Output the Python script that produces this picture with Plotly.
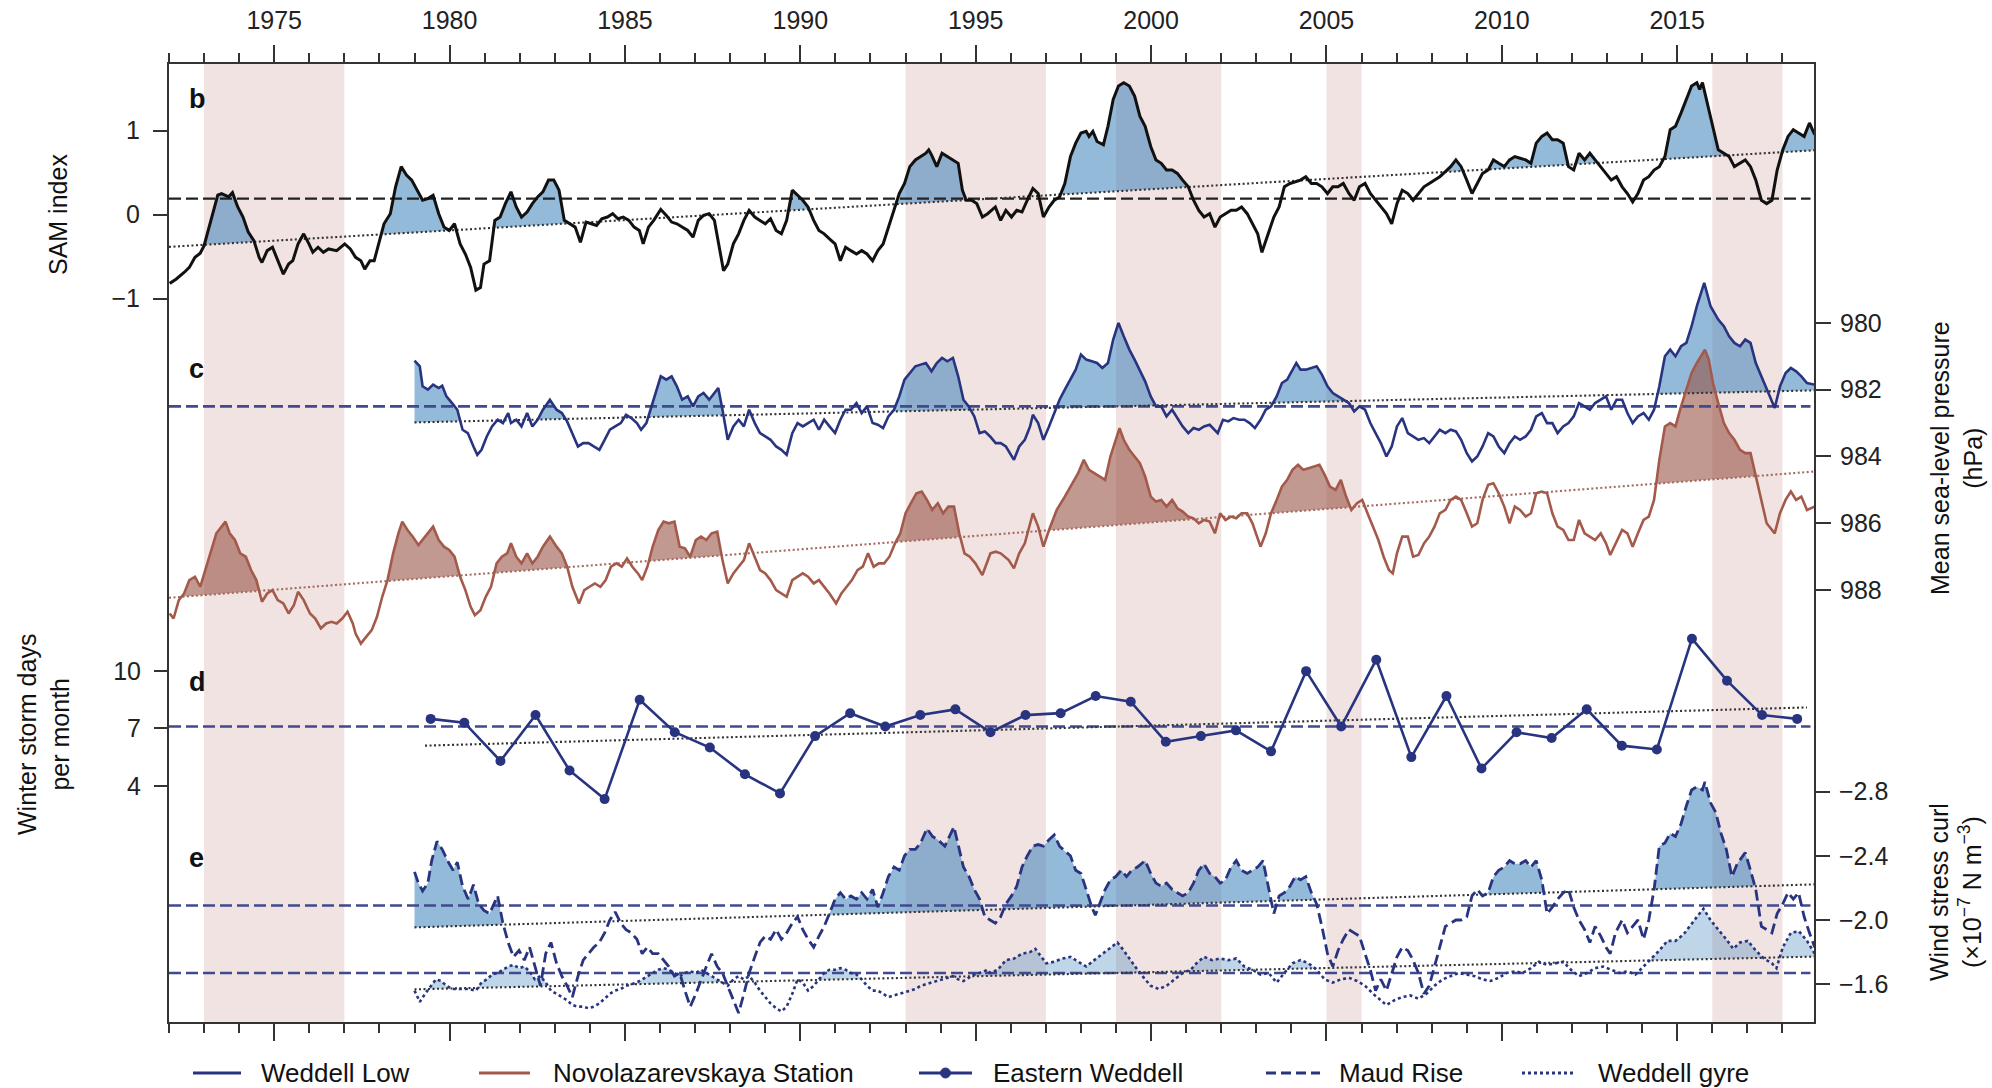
import numpy as np
import plotly.graph_objects as go

# ---------------- data ----------------
X_RANGE = [1972.0, 2018.9]
BANDS = [(1973, 1977), (1993, 1997), (1999, 2002), (2005, 2006), (2016, 2018)]

SAM_TICKS = [-1, 0, 1]
MSLP_TICKS = [980, 982, 984, 986, 988]
STORM_TICKS = [4, 7, 10]
CURL_TICKS = [-2.8, -2.4, -2.0, -1.6]

SAM = [(1972.02,-0.82),(1972.20,-0.77),(1972.43,-0.69),(1972.58,-0.63),(1972.74,-0.51),(1972.89,-0.46),
(1973.00,-0.37),(1973.12,-0.19),(1973.27,0.05),(1973.39,0.23),(1973.50,0.25),(1973.61,0.23),(1973.70,0.21),
(1973.81,0.26),(1973.96,0.09),(1974.11,-0.03),(1974.26,-0.21),(1974.42,-0.31),(1974.57,-0.51),(1974.65,-0.57),
(1974.80,-0.43),(1974.95,-0.39),(1975.10,-0.55),(1975.26,-0.71),(1975.41,-0.59),(1975.53,-0.55),(1975.68,-0.35),
(1975.84,-0.23),(1975.99,-0.35),(1976.10,-0.45),(1976.25,-0.39),(1976.40,-0.45),(1976.55,-0.41),(1976.78,-0.43),
(1977.01,-0.35),(1977.17,-0.41),(1977.32,-0.51),(1977.47,-0.55),(1977.58,-0.65),(1977.73,-0.55),(1977.85,-0.55),
(1978.01,-0.31),(1978.13,-0.11),(1978.31,0.01),(1978.46,0.33),(1978.62,0.57),(1978.77,0.47),(1978.92,0.41),
(1979.07,0.29),(1979.23,0.17),(1979.38,0.19),(1979.53,0.23),(1979.69,0.01),(1979.84,-0.15),(1979.99,-0.19),
(1980.14,-0.11),(1980.30,-0.35),(1980.45,-0.47),(1980.60,-0.63),(1980.75,-0.90),(1980.88,-0.87),(1980.98,-0.59),
(1981.14,-0.55),(1981.29,-0.07),(1981.44,-0.03),(1981.59,0.13),(1981.75,0.27),(1981.90,0.09),(1982.05,-0.03),
(1982.21,0.03),(1982.36,0.13),(1982.51,0.21),(1982.66,0.27),(1982.82,0.41),(1982.97,0.41),(1983.12,0.29),
(1983.27,-0.07),(1983.43,-0.11),(1983.58,-0.15),(1983.73,-0.33),(1983.89,-0.09),(1984.04,-0.11),(1984.19,-0.13),
(1984.34,-0.05),(1984.50,-0.03),(1984.65,0.01),(1984.80,-0.05),(1984.95,-0.03),(1985.11,-0.07),(1985.26,-0.15),
(1985.41,-0.19),(1985.52,-0.35),(1985.67,-0.15),(1985.82,-0.07),(1986.02,0.06),(1986.18,-0.01),(1986.33,-0.09),
(1986.48,-0.11),(1986.63,-0.15),(1986.79,-0.19),(1986.94,-0.27),(1987.09,-0.07),(1987.24,-0.01),(1987.40,0.01),
(1987.55,-0.07),(1987.70,-0.39),(1987.81,-0.67),(1987.93,-0.59),(1988.09,-0.35),(1988.24,-0.23),(1988.39,-0.07),
(1988.54,0.05),(1988.70,-0.03),(1988.85,-0.07),(1989.00,-0.11),(1989.15,-0.05),(1989.31,-0.19),(1989.46,-0.23),
(1989.61,-0.07),(1989.77,0.29),(1989.92,0.23),(1990.07,0.17),(1990.22,0.09),(1990.38,-0.07),(1990.53,-0.19),
(1990.68,-0.23),(1990.83,-0.29),(1990.99,-0.35),(1991.14,-0.55),(1991.29,-0.39),(1991.44,-0.43),(1991.60,-0.47),
(1991.75,-0.43),(1991.90,-0.47),(1992.06,-0.55),(1992.21,-0.43),(1992.36,-0.35),(1992.51,-0.15),(1992.67,0.05),
(1992.82,0.25),(1992.97,0.37),(1993.12,0.57),(1993.28,0.65),(1993.43,0.69),(1993.58,0.73),(1993.66,0.77),
(1993.74,0.71),(1993.89,0.57),(1994.04,0.73),(1994.19,0.69),(1994.35,0.65),(1994.50,0.61),(1994.62,0.29),
(1994.73,0.17),(1994.88,0.17),(1995.03,0.13),(1995.19,-0.03),(1995.34,0.01),
(1995.56,0.09),(1995.71,-0.07),(1995.86,0.05),(1996.02,-0.03),(1996.17,0.05),(1996.32,0.03),(1996.47,0.17),
(1996.63,0.31),(1996.78,0.25),(1996.93,-0.03),(1997.09,0.09),(1997.24,0.17),(1997.39,0.21),(1997.54,0.37),
(1997.70,0.69),(1997.85,0.85),(1998.00,0.97),(1998.15,0.99),(1998.23,0.93),(1998.34,0.99),(1998.46,0.87),
(1998.64,0.83),(1998.77,1.05),(1998.92,1.37),(1999.07,1.53),(1999.22,1.57),(1999.38,1.53),(1999.53,1.41),
(1999.68,1.17),(1999.83,1.05),(1999.99,0.81),(2000.14,0.65),(2000.29,0.61),(2000.44,0.53),(2000.60,0.53),
(2000.75,0.49),(2000.90,0.41),(2001.06,0.33),(2001.21,0.17),(2001.36,0.05),(2001.51,-0.03),(2001.67,0.01),
(2001.82,-0.15),(2001.97,-0.03),(2002.12,0.01),(2002.28,0.05),(2002.43,0.05),(2002.58,0.09),(2002.74,0.01),
(2002.89,-0.11),(2003.04,-0.23),(2003.16,-0.45),(2003.35,-0.23),(2003.50,-0.03),(2003.65,0.09),(2003.80,0.33),
(2003.96,0.37),(2004.11,0.39),(2004.26,0.41),(2004.41,0.45),(2004.57,0.37),(2004.72,0.37),(2004.87,0.33),
(2005.03,0.25),(2005.18,0.33),(2005.33,0.33),(2005.48,0.37),(2005.64,0.25),(2005.79,0.17),(2005.94,0.33),
(2006.10,0.37),(2006.25,0.25),(2006.40,0.17),(2006.55,0.09),(2006.71,0.01),(2006.86,-0.11),(2007.01,0.13),
(2007.16,0.29),(2007.32,0.25),(2007.47,0.17),(2007.62,0.25),(2007.78,0.33),(2007.93,0.37),(2008.08,0.41),
(2008.23,0.45),(2008.39,0.51),(2008.54,0.57),(2008.69,0.65),(2008.84,0.57),(2009.00,0.41),(2009.15,0.25),
(2009.30,0.37),(2009.45,0.49),(2009.61,0.53),(2009.76,0.65),(2009.91,0.61),(2010.07,0.57),(2010.22,0.65),
(2010.37,0.69),(2010.52,0.67),(2010.68,0.65),(2010.83,0.61),(2010.98,0.85),(2011.14,0.93),(2011.29,0.97),
(2011.44,0.89),(2011.59,0.89),(2011.75,0.85),(2011.90,0.57),(2012.05,0.53),(2012.20,0.73),(2012.36,0.65),
(2012.51,0.73),(2012.66,0.65),(2012.82,0.57),(2012.97,0.49),(2013.12,0.41),(2013.27,0.45),(2013.43,0.33),
(2013.58,0.25),(2013.73,0.15),(2013.88,0.25),(2014.04,0.41),(2014.19,0.45),(2014.34,0.53),(2014.49,0.57),
(2014.65,0.69),(2014.80,1.01),(2014.95,1.05),(2015.11,1.21),(2015.26,1.37),(2015.41,1.53),(2015.56,1.57),
(2015.64,1.49),(2015.72,1.57),(2015.87,1.29),(2016.02,1.05),(2016.17,0.77),(2016.33,0.73),(2016.48,0.69),
(2016.63,0.57),(2016.79,0.61),(2016.94,0.65),(2017.09,0.57),(2017.24,0.41),(2017.40,0.17),(2017.55,0.13),
(2017.70,0.17),(2017.85,0.53),(2018.01,0.77),(2018.16,0.93),(2018.31,1.01),(2018.46,0.97),(2018.62,0.93),
(2018.77,1.09),(2018.92,0.95)]
SAM_MEAN = 0.19
SAM_TREND = [(1972.0, -0.385), (2018.92, 0.765)]

WEDDELL_LOW = [(1979.00,981.13),(1979.15,981.30),(1979.23,981.90),(1979.38,982.00),(1979.53,981.85),
(1979.69,981.95),(1979.79,981.88),(1979.91,982.20),(1980.07,982.40),(1980.22,982.60),(1980.37,983.20),
(1980.52,983.30),(1980.68,983.70),(1980.79,983.95),(1980.91,983.80),(1981.06,983.40),(1981.21,983.10),
(1981.37,982.90),(1981.52,983.00),(1981.67,982.70),(1981.75,983.00),(1981.90,982.90),(1982.05,983.10),
(1982.21,982.70),(1982.36,983.10),(1982.51,982.90),(1982.66,982.60),(1982.86,982.30),(1983.05,982.60),
(1983.20,982.70),(1983.35,982.95),(1983.50,983.30),(1983.66,983.70),(1983.81,983.60),(1983.96,983.60),
(1984.11,983.70),(1984.27,983.80),(1984.42,983.50),(1984.57,983.20),(1984.72,983.10),(1984.88,983.00),
(1985.03,982.75),(1985.18,982.85),(1985.34,983.00),(1985.46,983.20),(1985.61,983.00),(1985.76,982.50),
(1985.92,981.90),(1986.02,981.60),(1986.18,981.70),(1986.33,981.60),(1986.48,981.90),(1986.63,982.30),
(1986.79,982.20),(1986.94,982.50),(1987.09,982.20),(1987.24,982.10),(1987.40,982.30),(1987.55,982.10),
(1987.66,981.95),(1987.78,982.60),(1987.93,983.50),(1988.09,983.10),(1988.24,982.90),(1988.39,983.10),
(1988.54,982.60),(1988.70,983.00),(1988.85,983.30),(1989.00,983.40),(1989.15,983.50),(1989.31,983.70),
(1989.46,983.80),(1989.61,983.95),(1989.77,983.30),(1989.92,983.00),(1990.07,983.10),(1990.22,983.00),
(1990.38,982.90),(1990.53,983.20),(1990.68,982.90),(1990.83,983.10),(1990.99,983.30),(1991.14,982.90),
(1991.29,982.60),(1991.44,982.60),(1991.60,982.40),(1991.75,982.70),(1991.90,982.50),(1992.06,983.00),
(1992.21,983.05),(1992.36,983.15),(1992.51,982.80),(1992.67,982.60),(1992.82,982.20),(1992.97,981.70),
(1993.12,981.50),(1993.28,981.30),(1993.43,981.25),(1993.58,981.20),(1993.74,981.45),(1993.89,981.20),
(1994.04,981.05),(1994.19,981.15),(1994.35,981.05),(1994.50,981.60),(1994.65,982.30),(1994.80,982.50),
(1994.96,982.80),(1995.11,983.30),(1995.26,983.25),(1995.41,983.40),(1995.57,983.60),
(1995.71,983.60),(1995.86,983.70),(1996.09,984.10),(1996.24,983.70),(1996.40,983.50),(1996.55,983.10),
(1996.63,982.75),(1996.78,983.00),(1996.93,983.50),(1997.09,983.10),(1997.24,982.70),(1997.39,982.30),
(1997.54,982.00),(1997.70,981.70),(1997.85,981.40),(1998.00,980.95),(1998.15,981.10),(1998.31,981.15),
(1998.46,981.20),(1998.61,981.35),(1998.77,981.20),(1998.92,980.50),(1999.07,980.00),(1999.22,980.40),
(1999.38,980.80),(1999.53,981.10),(1999.68,981.45),(1999.83,981.75),(1999.99,982.20),(2000.14,982.50),
(2000.29,982.50),(2000.44,982.80),(2000.60,982.60),(2000.75,982.85),(2000.90,983.10),(2001.06,983.30),
(2001.21,983.15),(2001.36,983.20),(2001.51,983.10),(2001.67,983.05),(2001.90,983.30),(2002.05,982.90),
(2002.20,982.95),(2002.35,982.85),(2002.51,982.90),(2002.66,982.90),(2002.81,983.00),(2002.96,983.15),
(2003.12,982.90),(2003.27,982.60),(2003.42,982.50),(2003.58,982.20),(2003.73,981.80),(2003.88,981.70),
(2004.03,981.40),(2004.14,981.20),(2004.26,981.40),(2004.41,981.40),(2004.57,981.35),(2004.72,981.30),
(2004.87,981.55),(2005.03,981.90),(2005.18,982.10),(2005.33,982.20),(2005.48,982.30),(2005.64,982.40),
(2005.79,982.65),(2005.94,982.50),(2006.10,982.60),(2006.25,983.00),(2006.40,983.30),(2006.55,983.60),
(2006.71,984.00),(2006.86,983.70),(2007.01,983.10),(2007.16,982.85),(2007.32,983.30),(2007.47,983.40),
(2007.62,983.50),(2007.78,983.45),(2007.93,983.60),(2008.08,983.40),(2008.23,983.20),(2008.39,983.30),
(2008.54,983.20),(2008.69,983.25),(2008.84,983.50),(2009.00,983.90),(2009.15,984.15),(2009.30,984.00),
(2009.45,983.70),(2009.61,983.30),(2009.76,983.40),(2009.91,983.70),(2010.07,983.90),(2010.22,983.60),
(2010.37,983.40),(2010.52,983.50),(2010.68,983.40),(2010.83,983.20),(2010.98,982.80),(2011.14,982.70),
(2011.29,983.00),(2011.44,983.00),(2011.59,983.30),(2011.75,983.10),(2011.90,983.00),(2012.05,982.80),
(2012.20,982.40),(2012.36,982.50),(2012.51,982.60),(2012.66,982.40),(2012.82,982.30),(2012.97,982.20),
(2013.12,982.60),(2013.27,982.30),(2013.43,982.30),(2013.58,982.70),(2013.73,983.00),(2013.88,982.80),
(2014.04,982.70),(2014.19,982.90),(2014.34,982.60),(2014.49,981.90),(2014.65,981.00),(2014.80,980.80),
(2014.95,981.00),(2015.11,980.70),(2015.26,980.60),(2015.41,980.10),(2015.56,979.50),(2015.77,978.80),
(2015.95,979.50),(2016.17,979.90),(2016.33,980.10),(2016.48,980.40),(2016.63,980.60),(2016.79,980.70),
(2016.94,980.50),(2017.09,980.60),(2017.24,981.20),(2017.40,981.60),(2017.55,982.00),(2017.78,982.55),
(2017.93,981.90),(2018.09,981.50),(2018.24,981.35),(2018.39,981.45),(2018.54,981.60),(2018.70,981.80),
(2018.92,981.85)]
WL_MEAN = 982.5
WL_TREND = [(1979.0, 982.98), (2018.92, 982.02)]

NOVO = [(1972.02,988.70),(1972.13,988.85),(1972.28,988.30),(1972.43,988.10),(1972.58,987.70),(1972.74,987.60),
(1972.89,987.90),(1973.04,987.40),(1973.19,986.90),(1973.35,986.30),(1973.50,986.10),(1973.61,985.95),
(1973.73,986.30),(1973.88,986.50),(1974.03,986.90),(1974.19,987.00),(1974.34,987.40),(1974.49,987.70),
(1974.65,988.35),(1974.80,988.10),(1974.95,988.00),(1975.10,988.30),(1975.26,988.40),(1975.41,988.70),
(1975.56,988.45),(1975.68,988.05),(1975.84,988.30),(1976.02,988.70),(1976.17,988.85),(1976.33,989.15),
(1976.48,989.00),(1976.63,988.95),(1976.78,989.00),(1976.94,988.85),(1977.09,988.65),(1977.24,989.00),
(1977.32,989.30),(1977.47,989.60),(1977.62,989.40),(1977.78,989.20),(1977.93,988.80),(1978.08,988.20),
(1978.23,987.70),(1978.39,986.90),(1978.54,986.30),(1978.65,985.95),(1978.80,986.20),(1978.95,986.40),
(1979.11,986.65),(1979.23,986.50),(1979.38,986.30),(1979.53,986.10),(1979.69,986.50),(1979.84,986.70),
(1979.99,986.80),(1980.14,987.00),(1980.30,987.60),(1980.45,988.00),(1980.60,988.50),(1980.72,988.75),
(1980.88,988.60),(1981.03,988.20),(1981.18,987.90),(1981.34,987.20),(1981.49,987.00),(1981.64,986.90),
(1981.75,986.60),(1981.90,987.00),(1982.05,987.20),(1982.21,986.90),(1982.36,987.20),(1982.51,987.00),
(1982.66,986.70),(1982.86,986.40),(1983.05,986.70),(1983.20,986.90),(1983.35,987.30),(1983.50,987.90),
(1983.69,988.40),(1983.84,988.00),(1983.99,987.90),(1984.14,987.80),(1984.30,987.90),(1984.45,987.70),
(1984.60,987.30),(1984.76,987.20),(1984.91,987.30),(1985.06,987.05),(1985.21,987.30),(1985.37,987.50),
(1985.49,987.70),(1985.64,987.30),(1985.79,986.70),(1985.95,986.20),(1986.10,985.95),(1986.25,986.00),
(1986.41,985.95),(1986.56,986.70),(1986.71,986.75),(1986.86,987.00),(1987.02,986.50),(1987.17,986.40),
(1987.32,986.50),(1987.47,986.30),(1987.63,986.25),(1987.78,987.10),(1987.93,987.80),(1988.09,987.50),
(1988.24,987.30),(1988.39,987.10),(1988.54,986.60),(1988.70,987.00),(1988.85,987.40),(1989.00,987.50),
(1989.15,987.70),(1989.31,988.00),(1989.46,988.10),(1989.61,988.20),(1989.77,987.70),(1989.92,987.60),
(1990.07,987.50),(1990.22,987.60),(1990.38,987.80),(1990.53,987.70),(1990.68,987.90),(1990.83,988.10),
(1991.02,988.40),(1991.17,988.10),(1991.32,987.90),(1991.47,987.70),(1991.63,987.40),(1991.78,987.30),
(1991.93,986.90),(1992.09,987.30),(1992.24,987.20),(1992.39,987.20),(1992.54,987.00),(1992.70,986.60),
(1992.85,986.30),(1993.00,985.70),(1993.15,985.40),(1993.31,985.10),(1993.46,985.05),(1993.61,985.30),
(1993.76,985.60),(1993.92,985.40),(1994.07,985.70),(1994.22,985.50),(1994.38,985.50),(1994.53,986.30),
(1994.68,986.90),(1994.83,987.00),(1994.99,987.20),(1995.19,987.55),(1995.42,986.90),(1995.57,986.85),
(1995.71,986.90),(1995.94,987.10),(1996.09,987.35),(1996.24,986.90),(1996.40,986.60),(1996.63,985.70),
(1996.78,986.10),(1996.93,986.70),(1997.09,986.20),(1997.31,985.60),(1997.54,985.20),(1997.77,984.75),
(1997.92,984.50),(1998.08,984.10),(1998.23,984.40),(1998.38,984.50),(1998.54,984.60),(1998.69,984.70),
(1998.84,984.00),(1998.99,983.50),(1999.10,983.15),(1999.22,983.50),(1999.38,983.80),(1999.53,984.00),
(1999.68,984.20),(1999.83,984.60),(1999.99,985.20),(2000.14,985.35),(2000.29,985.30),(2000.44,985.50),
(2000.60,985.30),(2000.75,985.55),(2000.90,985.65),(2001.06,985.80),(2001.21,985.85),(2001.36,986.00),
(2001.51,985.90),(2001.67,985.95),(2001.82,986.30),(2001.97,985.70),(2002.12,985.90),(2002.28,985.80),
(2002.43,985.85),(2002.58,985.70),(2002.74,985.70),(2002.89,986.00),(2003.12,986.70),(2003.27,986.30),
(2003.42,985.70),(2003.58,985.30),(2003.73,984.90),(2003.88,984.70),(2004.03,984.40),(2004.19,984.25),
(2004.34,984.40),(2004.49,984.35),(2004.64,984.30),(2004.80,984.25),(2004.95,984.55),(2005.10,984.90),
(2005.26,985.00),(2005.41,984.70),(2005.56,985.20),(2005.71,985.60),(2005.87,985.40),(2006.02,985.30),
(2006.17,985.70),(2006.32,986.10),(2006.48,986.50),(2006.63,987.00),(2006.78,987.40),(2006.89,987.50),
(2007.01,986.90),(2007.16,986.40),(2007.32,986.40),(2007.47,987.00),(2007.62,986.95),(2007.78,986.60),
(2007.93,986.40),(2008.08,986.10),(2008.23,985.70),(2008.39,985.60),(2008.54,985.30),(2008.69,985.20),
(2008.84,985.30),(2009.00,985.70),(2009.15,986.10),(2009.30,986.00),(2009.45,985.30),(2009.61,984.85),
(2009.76,984.80),(2009.91,985.10),(2010.07,985.50),(2010.22,986.00),(2010.37,985.50),(2010.52,985.60),
(2010.68,985.80),(2010.83,985.70),(2010.98,985.10),(2011.14,985.05),(2011.29,985.10),(2011.44,985.70),
(2011.59,986.10),(2011.75,986.20),(2011.90,986.50),(2012.05,986.50),(2012.20,985.90),(2012.36,986.30),
(2012.51,986.40),(2012.66,986.50),(2012.82,986.30),(2012.97,986.60),(2013.09,986.95),(2013.24,986.60),
(2013.43,986.20),(2013.58,986.30),(2013.73,986.70),(2013.88,986.30),(2014.04,985.90),(2014.19,985.80),
(2014.34,985.30),(2014.49,984.10),(2014.65,983.10),(2014.80,983.00),(2014.95,983.10),(2015.11,982.50),
(2015.26,982.00),(2015.41,981.50),(2015.56,981.20),(2015.68,981.00),(2015.79,980.80),(2015.90,981.10),
(2016.02,981.80),(2016.17,982.40),(2016.33,983.00),(2016.48,983.30),(2016.63,983.50),(2016.79,983.80),
(2016.94,983.90),(2017.09,983.90),(2017.24,984.60),(2017.40,985.40),(2017.55,986.00),(2017.78,986.30),
(2017.93,985.70),(2018.09,985.30),(2018.24,985.05),(2018.39,985.30),(2018.54,985.20),(2018.70,985.60),
(2018.92,985.50)]
NOVO_TREND = [(1972.0, 988.23), (2018.92, 984.45)]

EAST_WEDDELL = [(1979.46,7.5),(1980.42,7.3),(1981.45,5.3),(1982.45,7.7),(1983.42,4.8),(1984.42,3.3),
(1985.42,8.5),(1986.42,6.8),(1987.42,6.0),(1988.42,4.6),(1989.42,3.6),(1990.42,6.6),(1991.42,7.8),
(1992.42,7.1),(1993.42,7.7),(1994.42,8.0),(1995.42,6.8),(1996.42,7.7),(1997.42,7.8),(1998.42,8.7),
(1999.42,8.4),(2000.42,6.3),(2001.42,6.6),(2002.42,6.9),(2003.42,5.8),(2004.42,10.0),(2005.42,7.1),
(2006.42,10.6),(2007.42,5.5),(2008.42,8.7),(2009.42,4.9),(2010.42,6.8),(2011.42,6.5),(2012.42,8.0),
(2013.42,6.1),(2014.42,5.9),(2015.42,11.7),(2016.42,9.5),(2017.42,7.7),(2018.42,7.5)]
EW_MEAN = 7.1
EW_TREND = [(1979.3, 6.1), (2018.7, 8.1)]

MAUD_RISE = [(1979.00,-2.30),(1979.11,-2.23),(1979.23,-2.18),(1979.38,-2.23),(1979.49,-2.37),(1979.64,-2.49),
(1979.79,-2.44),(1979.94,-2.37),(1980.10,-2.31),(1980.22,-2.36),(1980.37,-2.21),(1980.53,-2.13),(1980.68,-2.22),
(1980.83,-2.10),(1980.98,-2.06),(1981.14,-2.04),(1981.37,-2.15),(1981.52,-1.98),(1981.67,-1.86),(1981.82,-1.77),
(1981.98,-1.81),(1982.13,-1.75),(1982.28,-1.83),(1982.43,-1.71),(1982.59,-1.59),(1982.74,-1.79),(1982.89,-1.86),
(1983.05,-1.73),(1983.20,-1.65),(1983.35,-1.59),(1983.50,-1.52),(1983.66,-1.65),(1983.81,-1.75),(1983.96,-1.79),
(1984.11,-1.83),(1984.27,-1.86),(1984.42,-1.92),(1984.57,-2.00),(1984.72,-2.05),(1984.88,-1.98),(1985.03,-1.94),
(1985.18,-1.92),(1985.34,-1.88),(1985.49,-1.79),(1985.64,-1.83),(1985.79,-1.79),(1985.95,-1.79),(1986.10,-1.75),
(1986.25,-1.71),(1986.41,-1.65),(1986.56,-1.67),(1986.71,-1.56),(1986.86,-1.46),(1987.02,-1.54),(1987.17,-1.63),
(1987.32,-1.71),(1987.47,-1.79),(1987.63,-1.71),(1987.78,-1.67),(1987.93,-1.59),(1988.09,-1.50),(1988.24,-1.42),
(1988.39,-1.54),(1988.54,-1.67),(1988.70,-1.77),(1988.85,-1.86),(1989.00,-1.90),(1989.15,-1.88),(1989.31,-1.94),
(1989.46,-1.88),(1989.61,-1.92),(1989.77,-1.98),(1989.92,-2.02),(1990.07,-1.94),(1990.22,-1.88),(1990.38,-1.83),
(1990.53,-1.90),(1990.68,-1.96),(1990.83,-2.04),(1990.99,-2.13),(1991.14,-2.17),(1991.29,-2.13),(1991.44,-2.15),
(1991.60,-2.13),(1991.75,-2.17),(1991.90,-2.13),(1992.06,-2.19),(1992.21,-2.08),(1992.36,-2.17),(1992.51,-2.27),
(1992.67,-2.33),(1992.82,-2.31),(1992.97,-2.40),(1993.12,-2.44),(1993.28,-2.44),(1993.43,-2.48),(1993.61,-2.57),
(1993.77,-2.52),(1993.92,-2.50),(1994.12,-2.46),(1994.38,-2.58),(1994.50,-2.46),(1994.65,-2.33),(1994.81,-2.27),
(1994.96,-2.19),(1995.11,-2.13),(1995.26,-2.02),(1995.41,-2.00),
(1995.56,-1.98),(1995.71,-2.02),(1995.86,-2.10),(1996.02,-2.15),(1996.17,-2.21),(1996.32,-2.33),(1996.47,-2.40),
(1996.63,-2.46),(1996.78,-2.47),(1996.93,-2.46),(1997.09,-2.50),(1997.24,-2.53),(1997.39,-2.46),(1997.54,-2.43),
(1997.70,-2.40),(1997.85,-2.31),(1998.00,-2.29),(1998.15,-2.19),(1998.31,-2.08),(1998.41,-2.03),(1998.54,-2.10),
(1998.69,-2.19),(1998.84,-2.25),(1998.99,-2.27),(1999.15,-2.31),(1999.30,-2.27),(1999.45,-2.31),(1999.61,-2.33),
(1999.83,-2.37),(1999.99,-2.29),(2000.14,-2.23),(2000.29,-2.21),(2000.44,-2.23),(2000.60,-2.19),(2000.75,-2.17),
(2000.90,-2.15),(2001.06,-2.17),(2001.21,-2.23),(2001.36,-2.31),(2001.51,-2.35),(2001.67,-2.29),(2001.82,-2.27),
(2001.97,-2.23),(2002.12,-2.25),(2002.28,-2.33),(2002.43,-2.37),(2002.58,-2.31),(2002.74,-2.29),(2002.89,-2.31),
(2003.04,-2.33),(2003.19,-2.37),(2003.35,-2.19),(2003.50,-2.04),(2003.65,-2.15),(2003.80,-2.17),(2003.96,-2.21),
(2004.11,-2.27),(2004.26,-2.25),(2004.41,-2.27),(2004.57,-2.17),(2004.72,-2.10),(2004.87,-1.96),(2005.03,-1.79),
(2005.18,-1.71),(2005.33,-1.81),(2005.48,-1.88),(2005.64,-1.94),(2005.79,-1.92),(2005.94,-1.90),(2006.10,-1.79),
(2006.25,-1.69),(2006.40,-1.56),(2006.55,-1.63),(2006.71,-1.56),(2006.86,-1.67),(2007.01,-1.77),(2007.16,-1.83),
(2007.32,-1.81),(2007.47,-1.75),(2007.62,-1.67),(2007.78,-1.54),(2007.93,-1.59),(2008.08,-1.71),(2008.23,-1.83),
(2008.39,-1.96),(2008.54,-1.98),(2008.69,-2.00),(2008.84,-2.00),(2009.00,-2.02),(2009.15,-2.15),(2009.30,-2.19),
(2009.45,-2.15),(2009.61,-2.17),(2009.76,-2.27),(2009.91,-2.31),(2010.07,-2.33),(2010.22,-2.37),(2010.37,-2.35),
(2010.52,-2.35),(2010.68,-2.37),(2010.83,-2.33),(2010.98,-2.37),(2011.14,-2.25),(2011.29,-2.04),(2011.44,-2.08),
(2011.59,-2.13),(2011.75,-2.17),(2011.90,-2.19),(2012.05,-2.08),(2012.20,-2.00),(2012.36,-1.94),(2012.51,-1.86),
(2012.66,-1.96),(2012.82,-1.90),(2012.97,-1.83),(2013.09,-1.79),(2013.24,-1.92),(2013.43,-2.00),(2013.58,-1.92),
(2013.73,-1.96),(2013.88,-2.00),(2014.04,-1.88),(2014.19,-2.00),(2014.34,-2.19),(2014.49,-2.46),(2014.65,-2.48),
(2014.80,-2.54),(2014.95,-2.52),(2015.11,-2.60),(2015.26,-2.71),(2015.41,-2.81),(2015.56,-2.83),(2015.72,-2.81),
(2015.79,-2.86),(2015.95,-2.73),(2016.10,-2.67),(2016.25,-2.54),(2016.40,-2.44),(2016.56,-2.27),(2016.71,-2.35),
(2016.94,-2.42),(2017.09,-2.31),(2017.24,-2.19),(2017.40,-1.96),(2017.55,-1.94),(2017.70,-1.92),(2017.85,-2.04),
(2018.01,-2.10),(2018.16,-2.17),(2018.31,-2.13),(2018.46,-2.17),(2018.62,-2.02),(2018.77,-1.92),(2018.92,-1.83)]
MR_MEAN = -2.09
MR_TREND = [(1979.0, -1.954), (2018.92, -2.222)]

WEDDELL_GYRE = [(1979.00,-1.56),(1979.15,-1.49),(1979.30,-1.54),(1979.46,-1.59),(1979.61,-1.63),(1979.76,-1.62),
(1979.91,-1.59),(1980.07,-1.57),(1980.30,-1.57),(1980.53,-1.57),(1980.75,-1.56),(1980.91,-1.61),(1981.06,-1.63),
(1981.21,-1.66),(1981.37,-1.67),(1981.52,-1.69),(1981.67,-1.71),(1981.82,-1.72),(1981.98,-1.70),(1982.13,-1.71),
(1982.28,-1.68),(1982.43,-1.63),(1982.59,-1.65),(1982.74,-1.61),(1982.89,-1.56),(1983.05,-1.54),(1983.20,-1.52),
(1983.35,-1.50),(1983.50,-1.47),(1983.66,-1.46),(1983.81,-1.46),(1983.96,-1.45),(1984.11,-1.46),(1984.27,-1.48),
(1984.42,-1.51),(1984.57,-1.54),(1984.72,-1.56),(1984.88,-1.57),(1985.03,-1.59),(1985.18,-1.60),(1985.34,-1.61),
(1985.49,-1.63),(1985.64,-1.65),(1985.79,-1.67),(1985.95,-1.69),(1986.10,-1.70),(1986.25,-1.69),(1986.41,-1.67),
(1986.56,-1.65),(1986.71,-1.67),(1986.86,-1.68),(1987.02,-1.67),(1987.17,-1.69),(1987.32,-1.67),(1987.47,-1.65),
(1987.63,-1.63),(1987.78,-1.61),(1987.93,-1.59),(1988.09,-1.63),(1988.24,-1.65),(1988.39,-1.63),(1988.54,-1.65),
(1988.70,-1.61),(1988.85,-1.56),(1989.00,-1.52),(1989.15,-1.48),(1989.31,-1.45),(1989.46,-1.43),(1989.61,-1.46),
(1989.77,-1.54),(1989.92,-1.63),(1990.07,-1.61),(1990.22,-1.56),(1990.38,-1.59),(1990.53,-1.63),(1990.68,-1.67),
(1990.83,-1.69),(1990.99,-1.69),(1991.14,-1.70),(1991.29,-1.69),(1991.44,-1.67),(1991.60,-1.66),(1991.75,-1.63),
(1991.90,-1.59),(1992.06,-1.56),(1992.21,-1.56),(1992.36,-1.54),(1992.51,-1.52),(1992.67,-1.53),(1992.82,-1.54),
(1992.97,-1.55),(1993.12,-1.56),(1993.28,-1.57),(1993.43,-1.59),(1993.58,-1.60),(1993.74,-1.61),(1993.89,-1.62),
(1994.04,-1.63),(1994.19,-1.64),(1994.35,-1.65),(1994.50,-1.63),(1994.65,-1.62),(1994.80,-1.64),(1994.96,-1.66),
(1995.11,-1.67),(1995.34,-1.69),
(1995.41,-1.67),(1995.63,-1.69),(1995.86,-1.75),(1996.09,-1.76),(1996.32,-1.79),(1996.55,-1.80),(1996.70,-1.82),
(1996.86,-1.77),(1997.01,-1.73),(1997.24,-1.74),(1997.47,-1.76),(1997.70,-1.77),(1997.92,-1.74),(1998.15,-1.71),
(1998.38,-1.75),(1998.61,-1.79),(1998.84,-1.83),(1999.04,-1.86),(1999.22,-1.81),(1999.41,-1.75),(1999.61,-1.69),
(1999.83,-1.63),(1999.99,-1.59),(2000.22,-1.57),(2000.44,-1.59),(2000.67,-1.63),(2000.90,-1.67),(2001.13,-1.69),
(2001.29,-1.73),(2001.51,-1.77),(2001.74,-1.75),(2001.97,-1.76),(2002.20,-1.75),(2002.43,-1.76),(2002.66,-1.71),
(2002.89,-1.69),(2003.12,-1.66),(2003.35,-1.67),(2003.58,-1.61),(2003.80,-1.67),(2004.03,-1.73),(2004.26,-1.75),
(2004.49,-1.73),(2004.72,-1.69),(2004.95,-1.63),(2005.18,-1.61),(2005.41,-1.63),(2005.64,-1.64),(2005.87,-1.62),
(2006.10,-1.59),(2006.33,-1.54),(2006.55,-1.50),(2006.71,-1.47),(2006.94,-1.50),(2007.16,-1.52),(2007.39,-1.53),
(2007.62,-1.51),(2007.85,-1.54),(2008.08,-1.59),(2008.31,-1.63),(2008.54,-1.65),(2008.77,-1.67),(2009.00,-1.66),
(2009.23,-1.65),(2009.45,-1.63),(2009.68,-1.62),(2009.91,-1.64),(2010.14,-1.67),(2010.37,-1.68),(2010.60,-1.67),
(2010.83,-1.70),(2011.06,-1.74),(2011.29,-1.72),(2011.52,-1.73),(2011.75,-1.74),(2011.97,-1.69),(2012.20,-1.65),
(2012.43,-1.67),(2012.66,-1.70),(2012.89,-1.71),(2013.12,-1.69),(2013.35,-1.67),(2013.58,-1.68),(2013.81,-1.66),
(2014.04,-1.71),(2014.27,-1.76),(2014.49,-1.81),(2014.72,-1.87),(2014.95,-1.87),(2015.18,-1.91),(2015.41,-1.98),
(2015.60,-2.03),(2015.75,-2.07),(2015.95,-2.00),(2016.17,-1.94),(2016.40,-1.88),(2016.60,-1.82),(2016.79,-1.86),
(2017.01,-1.87),(2017.24,-1.81),(2017.47,-1.76),(2017.70,-1.73),(2017.83,-1.70),(2018.01,-1.83),(2018.24,-1.92),
(2018.47,-1.93),(2018.70,-1.87),(2018.92,-1.79)]
WG_MEAN = -1.67
WG_TREND = [(1979.0, -1.568), (2018.92, -1.772)]

# ---------------- styling ----------------
FONT = "Liberation Sans, Arial, Helvetica, sans-serif"
NAVY = "#28347f"
NAVY_MEAN = "#3f4a8f"
BROWN = "#a35a4b"
BLACK = "#111111"
AXC = "#333333"
BLUE_FILL = "rgba(60,130,185,0.55)"
BLUE_FILL_LIGHT = "rgba(60,130,185,0.33)"
BROWN_FILL = "rgba(150,80,65,0.58)"
BAND_COLOR = "#f1e3e2"

L, T, W, H = 169, 64, 1645, 958


def fx(px):
    return (px - L) / W


def fy(py):
    return (T + H - py) / H


def split(pairs):
    return [p[0] for p in pairs], [p[1] for p in pairs]


def fill_polys(pairs, trend, sign, thr):
    xs, ys = split(pairs)
    xs = np.asarray(xs, float)
    ys = np.asarray(ys, float)
    tx, ty = split(trend)
    t = np.interp(xs, tx, ty)
    a = sign * (ys - t)
    out_x, out_y = [], []
    n = len(xs)
    i = 0
    while i < n:
        if a[i] <= 0:
            i += 1
            continue
        j = i
        while j + 1 < n and a[j + 1] > 0:
            j += 1
        if a[i:j + 1].max() > thr:
            if i > 0:
                f = a[i - 1] / (a[i - 1] - a[i])
                x0 = xs[i - 1] + f * (xs[i] - xs[i - 1])
            else:
                x0 = xs[i]
            if j < n - 1:
                f = a[j] / (a[j] - a[j + 1])
                x1 = xs[j] + f * (xs[j + 1] - xs[j])
            else:
                x1 = xs[j]
            px = [x0] + list(xs[i:j + 1]) + [x1, x0]
            py = ([float(np.interp(x0, tx, ty))] + list(ys[i:j + 1]) +
                  [float(np.interp(x1, tx, ty)), float(np.interp(x0, tx, ty))])
            out_x += px + [None]
            out_y += py + [None]
        i = j + 1
    return out_x, out_y


fig = go.Figure()


def add_fill(pairs, trend, sign, thr, color, yaxis):
    fxs, fys = fill_polys(pairs, trend, sign, thr)
    fig.add_trace(go.Scatter(x=fxs, y=fys, mode="none", fill="toself", fillcolor=color,
                             yaxis=yaxis, hoverinfo="skip", showlegend=False))


add_fill(SAM, SAM_TREND, 1, 0.12, BLUE_FILL, "y")
add_fill(WEDDELL_LOW, WL_TREND, -1, 0.45, BLUE_FILL, "y2")
add_fill(NOVO, NOVO_TREND, -1, 0.6, BROWN_FILL, "y2")
add_fill(MAUD_RISE, MR_TREND, -1, 0.08, BLUE_FILL, "y4")
add_fill(WEDDELL_GYRE, WG_TREND, -1, 0.045, BLUE_FILL_LIGHT, "y4")


def add_line(x, y, yaxis, color, width, dash="solid", mode="lines", marker=None):
    fig.add_trace(go.Scatter(x=x, y=y, mode=mode, yaxis=yaxis, hoverinfo="skip", showlegend=False,
                             line=dict(color=color, width=width, dash=dash), marker=marker))


MEAN_X = [X_RANGE[0], X_RANGE[1] - 0.1]
add_line(MEAN_X, [SAM_MEAN] * 2, "y", "#222222", 2.2, "12px,5px")
add_line(MEAN_X, [WL_MEAN] * 2, "y2", NAVY_MEAN, 2.6, "12px,5px")
add_line(MEAN_X, [EW_MEAN] * 2, "y3", NAVY_MEAN, 2.6, "12px,5px")
add_line(MEAN_X, [MR_MEAN] * 2, "y4", NAVY_MEAN, 2.6, "12px,5px")
add_line(MEAN_X, [WG_MEAN] * 2, "y4", NAVY_MEAN, 2.6, "12px,5px")

DOT = "2px,2.5px"
for tr, ax, col in [(SAM_TREND, "y", "#333333"), (WL_TREND, "y2", "#333333"), (NOVO_TREND, "y2", "#a56a5c"),
                    (EW_TREND, "y3", "#333333"), (MR_TREND, "y4", "#333333"), (WG_TREND, "y4", "#333333")]:
    tx, ty = split(tr)
    add_line(tx, ty, ax, col, 2.1, DOT)

x, y = split(SAM)
add_line(x, y, "y", BLACK, 3)
x, y = split(NOVO)
add_line(x, y, "y2", BROWN, 2.6)
x, y = split(WEDDELL_LOW)
add_line(x, y, "y2", NAVY, 2.6)
x, y = split(MAUD_RISE)
add_line(x, y, "y4", NAVY, 2.8, "11px,5px")
x, y = split(WEDDELL_GYRE)
add_line(x, y, "y4", NAVY, 2.6, "3px,3px")
x, y = split(EAST_WEDDELL)
add_line(x, y, "y3", NAVY, 2.6, mode="lines+markers", marker=dict(color=NAVY, size=10))

# ---------------- layout ----------------
shapes = []
for a, b in BANDS:
    shapes.append(dict(type="rect", xref="x", yref="paper", x0=a, x1=b, y0=0, y1=1,
                       fillcolor=BAND_COLOR, line=dict(width=0), layer="below"))

tickfont = dict(family=FONT, size=25, color="#222222")
common_y = dict(showgrid=False, zeroline=False, ticks="outside", tickwidth=2, tickcolor=AXC,
                tickfont=tickfont, fixedrange=True)

annotations = []


def ann(text, px, py, size=25, angle=0, xanchor="center", bold=False):
    annotations.append(dict(text=("<b>%s</b>" % text) if bold else text, x=fx(px), y=fy(py),
                            xref="paper", yref="paper", showarrow=False, textangle=angle,
                            xanchor=xanchor, yanchor="middle",
                            font=dict(family=FONT, size=size, color="#111111")))


for letter, px, py in [("b", 197, 99), ("c", 196, 369), ("d", 197, 682), ("e", 196, 858)]:
    ann(letter, px, py, size=27, bold=True)

ann("SAM index", 58, 215, angle=-90)
ann("Winter storm days<br>per month", 43, 735, angle=-90)
ann("Mean sea-level pressure<br>(hPa)", 1956, 458, angle=-90)
ann("Wind stress curl<br>(×10<sup>−7</sup> N m<sup>−3</sup>)", 1955, 892, angle=-90)

# legend (drawn manually to match the reference layout)
LEG_Y = 1073
legend_items = [
    ("Weddell Low", 193, 241, 259, NAVY, "solid", False),
    ("Novolazarevskaya Station", 479, 530, 551, BROWN, "solid", False),
    ("Eastern Weddell", 919, 972, 991, NAVY, "solid", True),
    ("Maud Rise", 1266, 1320, 1337, NAVY, "10px,5px", False),
    ("Weddell gyre", 1522, 1573, 1596, NAVY, "3px,3px", False),
]
for label, x0, x1, xt, col, dash, mk in legend_items:
    shapes.append(dict(type="line", xref="paper", yref="paper", x0=fx(x0), x1=fx(x1),
                       y0=fy(LEG_Y), y1=fy(LEG_Y), line=dict(color=col, width=3, dash=dash)))
    if mk:
        cx = (x0 + x1) / 2
        shapes.append(dict(type="circle", xref="paper", yref="paper", x0=fx(cx - 5), x1=fx(cx + 5),
                           y0=fy(LEG_Y + 5), y1=fy(LEG_Y - 5), fillcolor=col, line=dict(color=col, width=1)))
    ann(label, xt, LEG_Y, size=26, xanchor="left")

fig.update_layout(
    width=1992, height=1088,
    margin=dict(l=L, r=1992 - L - W, t=T, b=1088 - T - H, autoexpand=False),
    paper_bgcolor="white", plot_bgcolor="white",
    showlegend=False,
    font=dict(family=FONT, size=25, color="#222222"),
    xaxis=dict(range=X_RANGE, side="top", tickmode="linear", tick0=1975, dtick=5,
               ticks="outside", ticklen=17, tickwidth=2, tickcolor=AXC,
               showline=True, linecolor=AXC, linewidth=2, mirror="ticks",
               showgrid=False, zeroline=False, tickfont=tickfont, ticklabelstandoff=6,
               minor=dict(ticks="outside", ticklen=9, tickwidth=2, tickcolor=AXC, dtick=1, tick0=1975,
                          showgrid=False),
               fixedrange=True),
    yaxis=dict(range=[-9.613, 1.792], tickvals=SAM_TICKS, ticklen=14, side="left",
               showline=True, linecolor=AXC, linewidth=2, ticklabelstandoff=8, **common_y),
    yaxis2=dict(range=[1000.93, 972.25], tickvals=MSLP_TICKS, ticklen=15, side="right",
                overlaying="y", anchor="x", showline=True, linecolor=AXC, linewidth=2,
                ticklabelstandoff=4, **common_y),
    yaxis3=dict(range=[-8.37, 41.79], tickvals=STORM_TICKS, ticklen=14, side="left",
                overlaying="y", anchor="x", showline=False, ticklabelstandoff=8, **common_y),
    yaxis4=dict(range=[-1.3645, -7.333], tickvals=CURL_TICKS, tickformat=".1f", ticklen=15, side="right",
                overlaying="y", anchor="x", showline=False, ticklabelstandoff=4, **common_y),
    shapes=shapes,
    annotations=annotations,
)

fig.write_html("out.html")
